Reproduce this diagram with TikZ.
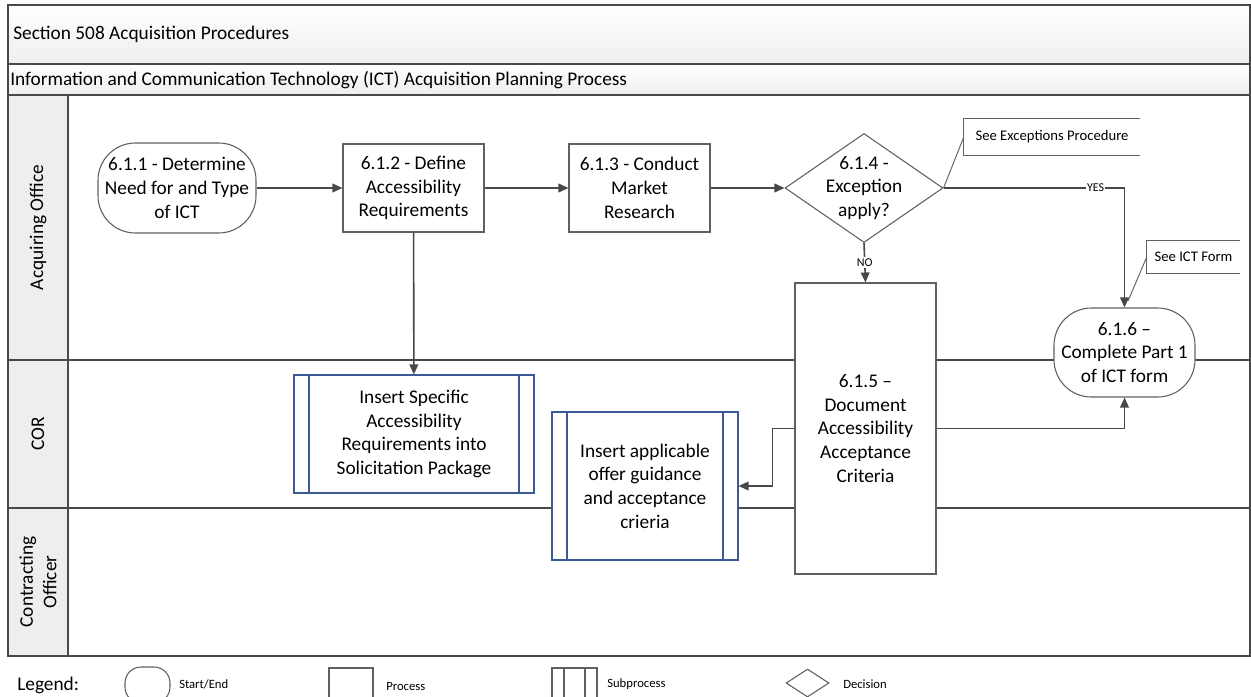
\documentclass[tikz,border=0pt]{standalone}
\usepackage{fontspec}
\setmainfont{Carlito}
\usepackage{xcolor}
\usepackage{tikz}
\usetikzlibrary{calc}
\usetikzlibrary{arrows.meta}
\usetikzlibrary{shapes.geometric}

\definecolor{linegray}{RGB}{72,72,72}
\definecolor{boxgray}{RGB}{96,96,96}
\definecolor{subblue}{RGB}{58,90,150}
\definecolor{headgray}{RGB}{238,238,238}

\tikzset{sublinegap/.store in=\sublinegap, sublinegap=11.25pt}

\begin{document}
\begin{tikzpicture}[x=0.75pt,y=-0.75pt,
	boxtext/.style={font=\fontsize{14.5}{17.8}\selectfont,align=center,fill=white,inner sep=0pt},
	startend/.style={boxtext,draw=boxgray,line width=0.8pt,rounded corners=28pt},
	process/.style={boxtext,draw=boxgray,line width=0.8pt},
	subproc/.style={boxtext,draw=#1,line width=0.8pt,
		path picture={\draw[#1,line width=0.8pt]
			([xshift=\sublinegap]path picture bounding box.north west) -- ([xshift=\sublinegap]path picture bounding box.south west)
			([xshift=-\sublinegap]path picture bounding box.north east) -- ([xshift=-\sublinegap]path picture bounding box.south east);}},
	subproc/.default=subblue,
	decision/.style={boxtext,diamond,draw=boxgray,line width=0.8pt,inner sep=-6pt,aspect=1.45},
	flow/.style={draw=linegray,line width=1.2pt,-{Triangle[length=7.5pt,width=6.5pt]}},
	flowlabel/.style={font=\fontsize{9}{10}\selectfont,fill=white,inner sep=1pt},
	noteline/.style={draw=boxgray,line width=0.7pt},
	notetext/.style={font=\fontsize{11}{13}\selectfont,inner sep=0pt},
	lanetext/.style={font=\fontsize{14.5}{17.8}\selectfont,align=center,rotate=90},
	legtext/.style={font=\fontsize{9.5}{11}\selectfont,anchor=west,inner sep=0pt}]
	\useasboundingbox (0,0) rectangle (1251,696);
	% pool header bands
	\draw[linegray,line width=1.4pt,top color=white,bottom color=headgray] (8,5) rectangle (1250,64);
	\draw[linegray,line width=1.4pt,top color=white,bottom color=headgray] (8,64) rectangle (1250,95);
	\node[font=\fontsize{14.5}{17.8}\selectfont,anchor=west,inner sep=0pt] (pool) at (13,34) {Section 508 Acquisition Procedures};
	\node[font=\fontsize{14.5}{17.8}\selectfont,anchor=west,inner sep=0pt] (process) at (10,80) {Information and Communication Technology (ICT) Acquisition Planning Process};
	% lanes
	\fill[headgray] (8,95) rectangle (68,656);% lane header column
	\draw[linegray,line width=1.4pt] (8,95) rectangle (1250,656);
	\draw[linegray,line width=1.4pt] (68,95) -- (68,656);
	\draw[linegray,line width=1.4pt] (8,360) -- (1250,360);% Acquiring Office / COR
	\draw[linegray,line width=1.4pt] (8,508) -- (1250,508);% COR / Contracting Officer
	\node[lanetext] (laneao) at (38,227.5) {Acquiring Office};
	\node[lanetext] (lanecor) at (38,434) {COR};
	\node[lanetext] (laneco) at (38,582) {Contracting\\Officer};
	% steps
	\node[startend,minimum width=118.5pt,minimum height=67.5pt] (need) at (177,188) {6.1.1 - Determine\\Need for and Type\\of ICT};
	\node[process,minimum width=105.75pt,minimum height=66pt] (define) at (413.5,188) {6.1.2 - Define\\Accessibility\\Requirements};
	\node[process,minimum width=105.75pt,minimum height=66pt] (market) at (639.5,188) {6.1.3 - Conduct\\Market\\Research};
	\node[decision,minimum width=118.5pt,minimum height=81.75pt] (except) at (864,188) {6.1.4 -\\Exception\\apply?};
	\node[process,minimum width=105.75pt,minimum height=218.25pt] (criteria) at (865.5,428.5) {6.1.5 --\\Document\\Accessibility\\Acceptance\\Criteria};
	\node[startend,minimum width=105.75pt,minimum height=66.75pt] (ictform) at (1124.5,352.5) {6.1.6 --\\Complete Part 1\\of ICT form};
	\node[subproc,minimum width=180pt,minimum height=88.5pt] (solicit) at (414,434) {Insert Specific\\Accessibility\\Requirements into\\Solicitation Package};
	\node[subproc,minimum width=139.5pt,minimum height=111pt] (guidance) at (645,486) {Insert applicable\\offer guidance\\and acceptance\\crieria};
	% annotations
	\node[notetext,minimum width=132pt,minimum height=27pt] (excnote) at (1052,137) {See Exceptions Procedure};
	\node[notetext,minimum width=69.75pt,minimum height=24pt] (ictnote) at (1193.5,257) {See ICT Form};
	\coordinate (ictend) at (1128,301);
	\draw[noteline] (excnote.north east) -- (excnote.north west) -- (excnote.south west) -- (excnote.south east);
	\draw[noteline] (ictnote.north east) -- (ictnote.north west) -- (ictnote.south west) -- (ictnote.south east);
	\draw[noteline] (except.east) -- (excnote.west);
	\draw[noteline] (ictnote.west) -- (ictend);
	% connectors
	\draw[flow] (need) -- (define);
	\draw[flow] (define) -- (market);
	\draw[flow] (market) -- (except);
	\draw[flow] (define) -- (solicit);
	\draw[flow] (except.east) -| node[flowlabel,pos=0.42] (yes) {YES} (ictform.north);
	\draw[flow] (except.south) -- node[flowlabel] (no) {NO} (criteria.north);
	\draw[flow] (criteria.east) -| (ictform.south);
	\draw[flow] (criteria.west) -- ++(-22,0) |- (guidance.east);
	% legend
	\node[font=\fontsize{14.5}{17.8}\selectfont,anchor=west,inner sep=0pt] (legend) at (17,685) {Legend:};
	\node[startend,minimum width=33.75pt,minimum height=27pt,rounded corners=12pt] (legstart) at (147.5,685) {};
	\node[legtext] (legstarttxt) at (179,684) {Start/End};
	\node[process,minimum width=33pt,minimum height=27pt] (legproc) at (351,686) {};
	\node[legtext] (legproctxt) at (386,686) {Process};
	\node[subproc=boxgray,sublinegap=9pt,minimum width=33.75pt,minimum height=27pt] (legsub) at (574.5,686) {};
	\node[legtext] (legsubtxt) at (607,684) {Subprocess};
	\node[decision,inner sep=0pt,aspect=1,minimum width=32.25pt,minimum height=21pt] (legdec) at (807.5,683) {};
	\node[legtext] (legdectxt) at (843,684) {Decision};
\end{tikzpicture}
\end{document}
